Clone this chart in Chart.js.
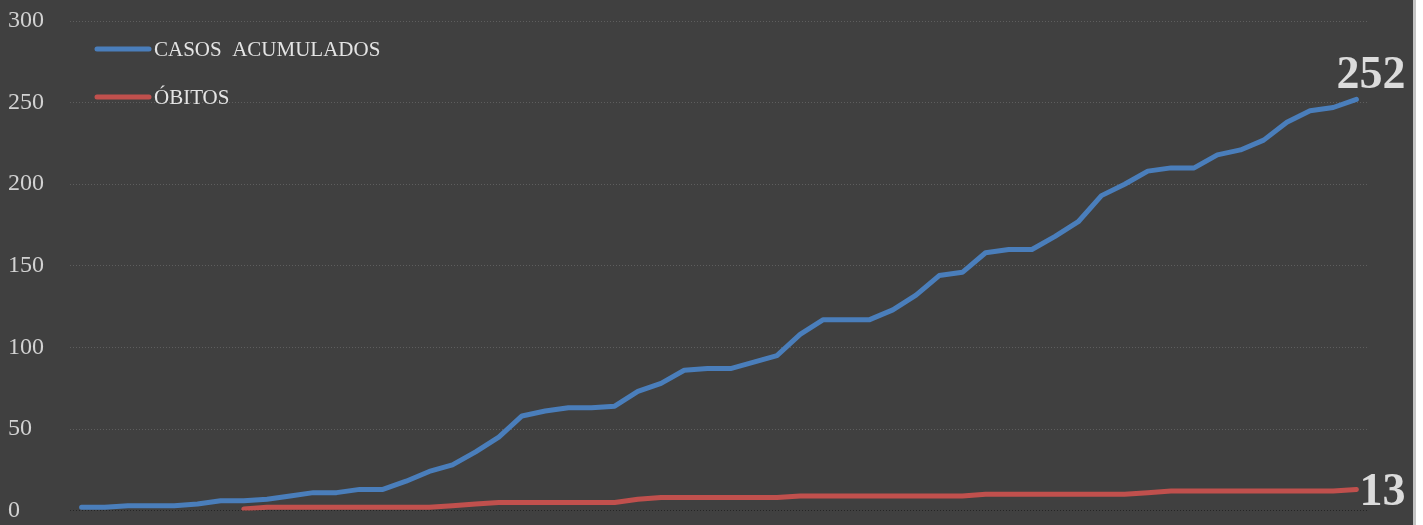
<!DOCTYPE html>
<html lang="pt-BR">
<head>
<meta charset="UTF-8">
<title>Casos acumulados e óbitos</title>
<script src="https://cdn.jsdelivr.net/npm/chart.js@4/dist/chart.umd.min.js"></script>
<style>
    body { margin: 0; background: #ffffff; }
    .moldura {
        position: relative;
        width: 1413px;
        height: 525px;
        background: #404040;
        border-right: 3px solid #c4c4c4;
    }
</style>
</head>
<body>
<div class="moldura">
    <canvas id="grafico_covid"></canvas>
</div>
<script>
// dias da serie (eixo x nao aparece no grafico)
const dias = ['1', '2', '3', '4', '5', '6', '7', '8', '9', '10',
    '11', '12', '13', '14', '15', '16', '17', '18', '19', '20',
    '21', '22', '23', '24', '25', '26', '27', '28', '29', '30',
    '31', '32', '33', '34', '35', '36', '37', '38', '39', '40',
    '41', '42', '43', '44', '45', '46', '47', '48', '49', '50',
    '51', '52', '53', '54', '55', '56']

const casos_acumulados = [2, 2, 3, 3, 3, 4, 6, 6, 7, 9,
    11, 11, 13, 13, 18, 24, 28, 36, 45, 58,
    61, 63, 63, 64, 73, 78, 86, 87, 87, 91,
    95, 108, 117, 117, 117, 123, 132, 144, 146, 158,
    160, 160, 168, 177, 193, 200, 208, 210, 210, 218,
    221, 227, 238, 245, 247, 252]

const obitos = [null, null, null, null, null, null, null, 1, 2, 2,
    2, 2, 2, 2, 2, 2, 3, 4, 5, 5,
    5, 5, 5, 5, 7, 8, 8, 8, 8, 8,
    8, 9, 9, 9, 9, 9, 9, 9, 9, 10,
    10, 10, 10, 10, 10, 10, 11, 12, 12, 12,
    12, 12, 12, 12, 12, 13]

const nomes_series = ['CASOS  ACUMULADOS', 'ÓBITOS']
const cores_series = ['#4a7ebb', '#c0504d']

const eixo_y_min = 0
const eixo_y_max = 300
const eixo_y_passo = 50

// legenda desenhada dentro da area do grafico
const legendaInterna = {
    id: 'legendaInterna',
    afterDatasetsDraw(chart) {
        const ctx = chart.ctx
        const area = chart.chartArea
        ctx.save()
        ctx.font = '21px "Liberation Serif", serif'
        ctx.textBaseline = 'middle'
        ctx.lineCap = 'round'
        ctx.lineWidth = 5
        for (let i = 0; i < nomes_series.length; i++) {
            const y = area.top + 28 + i * 48
            ctx.strokeStyle = cores_series[i]
            ctx.beginPath()
            ctx.moveTo(area.left + 27, y)
            ctx.lineTo(area.left + 79, y)
            ctx.stroke()
            ctx.fillStyle = '#e4e4e4'
            ctx.fillText(nomes_series[i], area.left + 84, y + 1)
        }
        ctx.restore()
    }
}

// valor final de cada serie em destaque
const rotuloFinal = {
    id: 'rotuloFinal',
    afterDatasetsDraw(chart) {
        const ctx = chart.ctx
        ctx.save()
        ctx.font = 'bold 46px "Liberation Serif", serif'
        ctx.fillStyle = '#dcdcdc'
        ctx.textAlign = 'right'
        chart.data.datasets.forEach((ds, i) => {
            const meta = chart.getDatasetMeta(i)
            const ultimo = meta.data[meta.data.length - 1]
            const valor = ds.data[ds.data.length - 1]
            if (i == 0) {
                ctx.textBaseline = 'alphabetic'
                ctx.fillText(valor, ultimo.x + 49, ultimo.y - 11)
            } else {
                ctx.textBaseline = 'middle'
                ctx.fillText(valor, ultimo.x + 49, ultimo.y + 4)
            }
        })
        ctx.restore()
    }
}

const ctx_covid = document.getElementById('grafico_covid').getContext('2d')

new Chart(ctx_covid, {
    type: 'line',
    data: {
        labels: dias,
        datasets: [{
            label: nomes_series[0],
            data: casos_acumulados,
            borderColor: cores_series[0],
            backgroundColor: cores_series[0],
            borderWidth: 5,
            borderCapStyle: 'round',
            borderJoinStyle: 'round',
            pointRadius: 0,
            tension: 0,
            fill: false
        }, {
            label: nomes_series[1],
            data: obitos,
            borderColor: cores_series[1],
            backgroundColor: cores_series[1],
            borderWidth: 5,
            borderCapStyle: 'round',
            borderJoinStyle: 'round',
            pointRadius: 0,
            tension: 0,
            fill: false
        }]
    },
    options: {
        responsive: true,
        maintainAspectRatio: false,
        animation: false,
        layout: {
            padding: { top: 21, bottom: 12, left: 8, right: 45 }
        },
        plugins: {
            legend: { display: false },
            tooltip: { enabled: false }
        },
        scales: {
            x: {
                display: false,
                offset: true
            },
            y: {
                min: eixo_y_min,
                max: eixo_y_max,
                afterFit(scale) {
                    scale.width = 62
                },
                ticks: {
                    stepSize: eixo_y_passo,
                    crossAlign: 'far',
                    padding: 0,
                    color: '#d2d2d2',
                    font: { family: '"Liberation Serif", serif', size: 24 }
                },
                grid: {
                    drawTicks: false,
                    lineWidth: 1,
                    color: (c) => c.tick && c.tick.value === 0 ? '#252525' : '#5e5e5e'
                },
                border: {
                    display: false,
                    dash: [1, 2]
                }
            }
        }
    },
    plugins: [legendaInterna, rotuloFinal]
})
</script>
</body>
</html>
